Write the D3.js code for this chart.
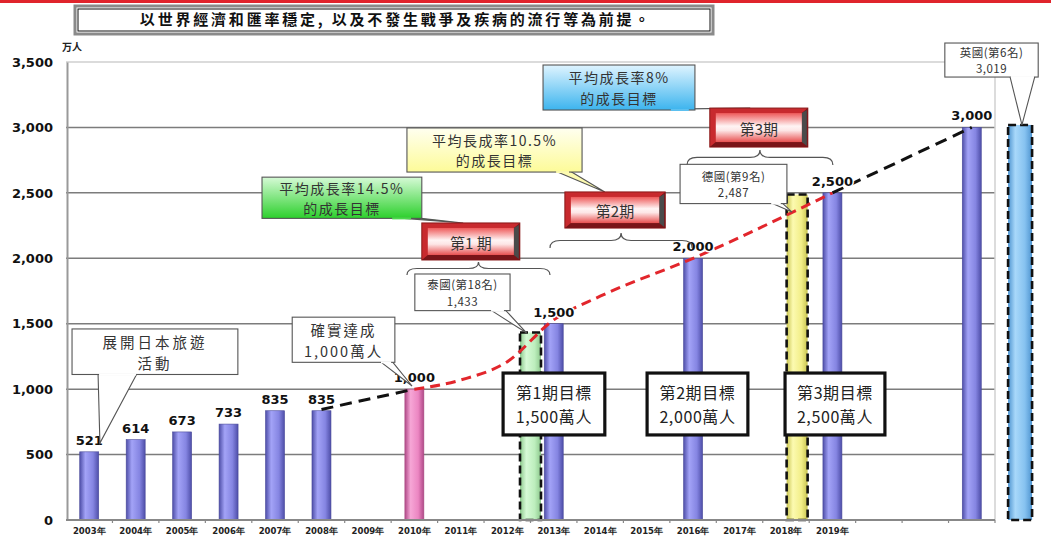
<!DOCTYPE html>
<html>
<head>
<meta charset="utf-8">
<script src="https://cdn.jsdelivr.net/npm/d3@7"></script>
<style>
  body { margin: 0; background: #fff; }
  svg { display: block; }
</style>
</head>
<body>
<div id="chart"></div>
<script>
// ---- data ----
const xLabels = ["2003年","2004年","2005年","2006年","2007年","2008年","2009年","2010年","2011年",
                 "2012年","2013年","2014年","2015年","2016年","2017年","2018年","2019年","","",""];
const barValues = [521,614,673,733,835,835,null,1000,null,null,1500,null,null,2000,null,null,2500,null,null,3000];
const yTicks = [0,500,1000,1500,2000,2500,3000,3500];

// comparison countries (dashed bars)
const compNames = ["泰國(第18名)","德國(第9名)","英國(第6名)"];
const compValues = [1433, 2487, 3019];
const compSlots = [9, 15, 20];

// trend lines (category index -> value)
const pastIdx = [5, 7],  pastVals = [845, 1000];
const planIdx = [7, 8, 9, 10, 11, 13, 16], planVals = [1000, 1070, 1210, 1530, 1710, 2000, 2500];
const futureIdx = [16, 19], futureVals = [2500, 3000];

const phaseNames = ["第1 期","第2期","第3期"];
const targetLines = [["第1期目標","1,500萬人"],["第2期目標","2,000萬人"],["第3期目標","2,500萬人"]];
const title = "以世界經濟和匯率穩定, 以及不發生戰爭及疾病的流行等為前提。";

// ---- setup ----
const W = 1051, H = 538;
const CJK = "'Noto Sans CJK TC', 'Noto Sans CJK SC', sans-serif";
const NUM = "'DejaVu Sans', sans-serif";

const svg = d3.select("#chart").append("svg").attr("width", W).attr("height", H);
const defs = svg.append("defs");

const x = d3.scaleBand().domain(d3.range(xLabels.length + 1)).range([66, 66 + 21 * 46.45]).padding(0);
const y = d3.scaleLinear().domain([0, 3500]).range([520, 62]);
const X = i => x(0) + i * x.step();      // fractional category position
const plotL = X(0), plotR = X(xLabels.length);

// gradients
function hGrad(id, edge, mid, light) {
    const g = defs.append("linearGradient").attr("id", id).attr("x1", 0).attr("x2", 1).attr("y1", 0).attr("y2", 0);
    g.append("stop").attr("offset", "0%").attr("stop-color", edge);
    g.append("stop").attr("offset", "30%").attr("stop-color", light);
    g.append("stop").attr("offset", "70%").attr("stop-color", mid);
    g.append("stop").attr("offset", "100%").attr("stop-color", edge);
}
function vGrad(id, stops) {
    const g = defs.append("linearGradient").attr("id", id).attr("x1", 0).attr("x2", 0).attr("y1", 0).attr("y2", 1);
    stops.forEach(s => g.append("stop").attr("offset", s[0]).attr("stop-color", s[1]));
}
hGrad("gBlue", "#4e4ea8", "#8585e2", "#a3a3f7");
hGrad("gPink", "#b04a88", "#ec86c2", "#f6a6d6");
hGrad("gGreen", "#8cc88c", "#bdeebd", "#d6fad6");
hGrad("gYellow", "#c8c450", "#f2ee88", "#fcfab0");
hGrad("gSky", "#4e94d0", "#86c2f0", "#a8d8fa");
vGrad("cGreen", [["0%", "#d6fad6"], ["100%", "#2cd02c"]]);
vGrad("cYellow", [["0%", "#fffff0"], ["100%", "#fdfb98"]]);
vGrad("cBlue", [["0%", "#dff4ff"], ["100%", "#3cb4ee"]]);
vGrad("btn", [["0%", "#ee5a5a"], ["45%", "#fff4f4"], ["60%", "#fde6e6"], ["100%", "#e85050"]]);

// red strip on top
svg.append("rect").attr("x", 0).attr("y", 0).attr("width", W).attr("height", 3).attr("fill", "#e0242c");

// title box
svg.append("rect").attr("x", 75).attr("y", 6).attr("width", 638).attr("height", 28)
    .attr("fill", "#fff").attr("stroke", "#8a8a8a").attr("stroke-width", 3);
svg.append("rect").attr("x", 78).attr("y", 9).attr("width", 632).attr("height", 22)
    .attr("fill", "none").attr("stroke", "#111").attr("stroke-width", 1);
svg.append("text").attr("x", 396).attr("y", 21).attr("text-anchor", "middle").attr("dominant-baseline", "middle")
    .attr("font-family", CJK).attr("font-weight", "bold").attr("font-size", 15).attr("letter-spacing", 2.8)
    .attr("fill", "#111").text(title);

// unit
svg.append("text").attr("x", 62).attr("y", 51).attr("font-family", CJK).attr("font-weight", "bold")
    .attr("font-size", 10).attr("fill", "#222").text("万人");

// gridlines
svg.append("g").selectAll("line").data(yTicks.filter(d => d > 0)).join("line")
    .attr("x1", plotL).attr("x2", plotR).attr("y1", d => y(d)).attr("y2", d => y(d))
    .attr("stroke", d => d === 3500 ? "#cfcfcf" : "#7c7c7c").attr("stroke-width", 1.5);
svg.append("line").attr("x1", plotR).attr("x2", plotR).attr("y1", y(3500)).attr("y2", y(0))
    .attr("stroke", "#d0d0d0").attr("stroke-width", 1.5);

// y axis
const yAxis = svg.append("g").attr("transform", `translate(${plotL + 1},0)`)
    .call(d3.axisLeft(y).tickValues(yTicks).tickFormat(d3.format(",")).tickSize(0).tickPadding(14));
yAxis.select(".domain").attr("stroke", "#999").attr("stroke-width", 2);
yAxis.selectAll("text").attr("font-family", NUM).attr("font-weight", "bold").attr("font-size", 13).attr("fill", "#111");

// bars
const bw = 19;
const bars = barValues.map((v, i) => ({ v, i })).filter(d => d.v != null);
svg.append("g").selectAll("rect").data(bars).join("rect")
    .attr("x", d => X(d.i + 0.5) - bw / 2).attr("width", bw)
    .attr("y", d => y(d.v)).attr("height", d => y(0) - y(d.v))
    .attr("fill", d => xLabels[d.i] === "2010年" ? "url(#gPink)" : "url(#gBlue)")
    .attr("stroke", d => xLabels[d.i] === "2010年" ? "#a84a80" : "#4a4a9a").attr("stroke-width", 0.6);

// comparison bars (dashed outlines)
const compOffset = [1.0, 0.74, 0.54];
const compFill = ["url(#gGreen)", "url(#gYellow)", "url(#gSky)"];
const compW = [21, 21, 24];
svg.append("g").selectAll("rect").data(compValues).join("rect")
    .attr("x", (d, k) => X(compSlots[k] + compOffset[k]) - compW[k] / 2).attr("width", (d, k) => compW[k])
    .attr("y", d => y(d)).attr("height", d => y(0) - y(d))
    .attr("fill", (d, k) => compFill[k])
    .attr("stroke", "#111").attr("stroke-width", 2.6).attr("stroke-dasharray", "8,4");

// x axis
svg.append("line").attr("x1", plotL).attr("x2", plotR).attr("y1", y(0)).attr("y2", y(0))
    .attr("stroke", "#888").attr("stroke-width", 2);
svg.append("g").selectAll("line").data(d3.range(1, xLabels.length + 1)).join("line")
    .attr("x1", d => X(d)).attr("x2", d => X(d)).attr("y1", y(0)).attr("y2", y(0) + 3)
    .attr("stroke", "#888").attr("stroke-width", 1.2);
const xAxis = svg.append("g").attr("transform", `translate(0,${y(0)})`)
    .call(d3.axisBottom(x).tickValues(d3.range(xLabels.length)).tickFormat(i => xLabels[i]).tickSize(0).tickPadding(8));
xAxis.select(".domain").remove();
xAxis.selectAll("text").attr("font-family", NUM).attr("font-weight", "bold").attr("font-size", 8.5).attr("fill", "#222");

// trend lines
const line = d3.line().x(d => X(d[0] + 0.5)).y(d => y(d[1]));
svg.append("path").datum(d3.zip(pastIdx, pastVals)).attr("d", line)
    .attr("fill", "none").attr("stroke", "#111").attr("stroke-width", 3).attr("stroke-dasharray", "12,7");
svg.append("path").datum(d3.zip(futureIdx, futureVals)).attr("d", line)
    .attr("fill", "none").attr("stroke", "#111").attr("stroke-width", 3).attr("stroke-dasharray", "12,7");
svg.append("path").datum(d3.zip(planIdx, planVals)).attr("d", line.curve(d3.curveMonotoneX))
    .attr("fill", "none").attr("stroke", "#e2262c").attr("stroke-width", 3).attr("stroke-dasharray", "10,6");

// value labels
svg.append("g").selectAll("text").data(bars).join("text")
    .attr("x", d => X(d.i + 0.5)).attr("y", d => y(d.v) - 7).attr("text-anchor", "middle")
    .attr("font-family", NUM).attr("font-weight", "bold").attr("font-size", 13)
    .attr("fill", "#111").attr("stroke", "#fff").attr("stroke-width", 3).attr("paint-order", "stroke")
    .text(d => d3.format(",")(d.v));

// ---- annotations ----
const ann = svg.append("g");
function callout(o) {
    const x0 = X(o.box[0]), x1 = X(o.box[1]), y0 = y(o.box[2]), y1 = y(o.box[3]);
    ann.append("path")
        .attr("d", `M${X(o.base[0])},${y1 - 1}L${X(o.tip[0])},${y(o.tip[1])}L${X(o.base[1])},${y1 - 1}`)
        .attr("fill", o.tipFill || "#fff").attr("stroke", "#555").attr("stroke-width", 1.1);
    ann.append("rect").attr("x", x0).attr("y", y0).attr("width", x1 - x0).attr("height", y1 - y0)
        .attr("fill", o.fill || "#fff").attr("stroke", "#555").attr("stroke-width", 1.1);
    ann.append("path")
        .attr("d", `M${X(o.base[0]) + 1},${y1}L${X(o.base[1]) - 1},${y1}`)
        .attr("stroke", o.tipFill || "#fff").attr("stroke-width", 2);
    const fs = o.fs || 14, lh = fs * 1.46;
    const cy = (y0 + y1) / 2 - (o.lines.length - 1) * lh / 2;
    o.lines.forEach((t, k) => {
        ann.append("text").attr("x", (x0 + x1) / 2).attr("y", cy + k * lh)
            .attr("text-anchor", "middle").attr("dominant-baseline", "central")
            .attr("font-family", CJK).attr("font-size", fs).attr("letter-spacing", o.ls || 0)
            .attr("fill", "#333").text(t);
    });
}
function brace(a, b, vTop, vBot) {
    const x1 = X(a), x2 = X(b), xm = (x1 + x2) / 2, yt = y(vTop), yb = y(vBot);
    const ym = yt + (yb - yt) * 0.5, r = 10;
    ann.append("path")
        .attr("d", `M${x1},${yb}Q${x1},${ym} ${x1 + r},${ym}L${xm - r},${ym}Q${xm},${ym} ${xm},${yt}` +
                   `Q${xm},${ym} ${xm + r},${ym}L${x2 - r},${ym}Q${x2},${ym} ${x2},${yb}`)
        .attr("fill", "none").attr("stroke", "#555").attr("stroke-width", 1.2);
}
function button(a, b, vTop, vBot, label) {
    const x0 = X(a), x1 = X(b), y0 = y(vTop), y1 = y(vBot);
    ann.append("rect").attr("x", x0).attr("y", y0).attr("width", x1 - x0).attr("height", y1 - y0)
        .attr("fill", "#c82a2e").attr("stroke", "#8a1a1a").attr("stroke-width", 1);
    ann.append("path").attr("d", `M${x1},${y0}L${x1},${y1}L${x0},${y1}L${x0 + 6},${y1 - 5}L${x1 - 6},${y1 - 5}L${x1 - 6},${y0 + 5}Z`)
        .attr("fill", "#7a1418");
    ann.append("path").attr("d", `M${x1 - 6},${y0 + 5}L${x1 - 1},${y0 + 2}L${x1 - 1},${y1 - 1}L${x1 - 6},${y1 - 5}Z`)
        .attr("fill", "#4a4a4a");
    ann.append("rect").attr("x", x0 + 6).attr("y", y0 + 5).attr("width", x1 - x0 - 12).attr("height", y1 - y0 - 10)
        .attr("fill", "url(#btn)");
    ann.append("text").attr("x", (x0 + x1) / 2).attr("y", (y0 + y1) / 2 + 1)
        .attr("text-anchor", "middle").attr("dominant-baseline", "central")
        .attr("font-family", CJK).attr("font-size", 15).attr("fill", "#333").text(label);
}
function target(a, b, vTop, vBot, lines) {
    const x0 = X(a), x1 = X(b), y0 = y(vTop), y1 = y(vBot);
    ann.append("rect").attr("x", x0).attr("y", y0).attr("width", x1 - x0).attr("height", y1 - y0)
        .attr("fill", "#fff").attr("stroke", "#111").attr("stroke-width", 3.2);
    const fs = 16, lh = fs * 1.46;
    lines.forEach((t, k) => {
        ann.append("text").attr("x", (x0 + x1) / 2).attr("y", (y0 + y1) / 2 + (k - 0.5) * lh)
            .attr("text-anchor", "middle").attr("dominant-baseline", "central")
            .attr("font-family", CJK).attr("font-size", fs).attr("letter-spacing", 0.6)
            .attr("fill", "#222").text(t);
    });
}

brace(7.34, 10.42, 1972, 1872);
brace(10.42, 13.48, 2193, 2079);
brace(13.37, 16.51, 2828, 2713);

callout({ box: [0.13, 3.70, 1460, 1112], base: [0.69, 1.53], tip: [0.73, 588],
          lines: ["展開日本旅遊", "活動"], fs: 14.5, ls: 3 });
callout({ box: [4.87, 7.08, 1550, 1205], base: [6.76, 7.02], tip: [7.45, 1024],
          lines: ["確實達成", "1,000萬人"], fs: 14.5, ls: 2 });
compNames.forEach((n, k) => {
    const spec = [
        { box: [7.51, 9.56, 1880, 1600], base: [9.13, 9.45], tip: [9.92, 1429] },
        { box: [13.22, 15.52, 2718, 2418], base: [15.16, 15.41], tip: [15.63, 2353] },
        { box: [18.92, 20.93, 3645, 3385], base: [20.32, 20.86], tip: [20.58, compValues[2]] }
    ][k];
    callout(Object.assign(spec, { lines: [n, d3.format(",")(compValues[k])], fs: 11.5, ls: 0.5 }));
});

callout({ box: [4.22, 7.66, 2620, 2305], base: [7.0, 7.45], tip: [8.55, 2270],
          lines: ["平均成長率14.5%", "的成長目標"], fill: "url(#cGreen)", tipFill: "#4cd84c", fs: 14, ls: 1.5 });
callout({ box: [7.34, 11.11, 2996, 2659], base: [10.53, 10.85], tip: [11.60, 2507],
          lines: ["平均長成率10.5%", "的成長目標"], fill: "url(#cYellow)", tipFill: "#fdfbb0", fs: 14, ls: 1.5 });
callout({ box: [10.27, 13.54, 3477, 3133], base: [13.0, 13.43], tip: [14.73, 3148],
          lines: ["平均成長率8%", "的成長目標"], fill: "url(#cBlue)", tipFill: "#5cc0f0", fs: 14, ls: 1.5 });

button(7.66, 9.77, 2270, 1987, phaseNames[0]);
button(10.74, 12.90, 2507, 2231, phaseNames[1]);
button(13.86, 15.97, 3148, 2850, phaseNames[2]);

target(9.41, 11.60, 1123, 650, targetLines[0]);
target(12.51, 14.68, 1123, 650, targetLines[1]);
target(15.48, 17.63, 1123, 650, targetLines[2]);
</script>
</body>
</html>
